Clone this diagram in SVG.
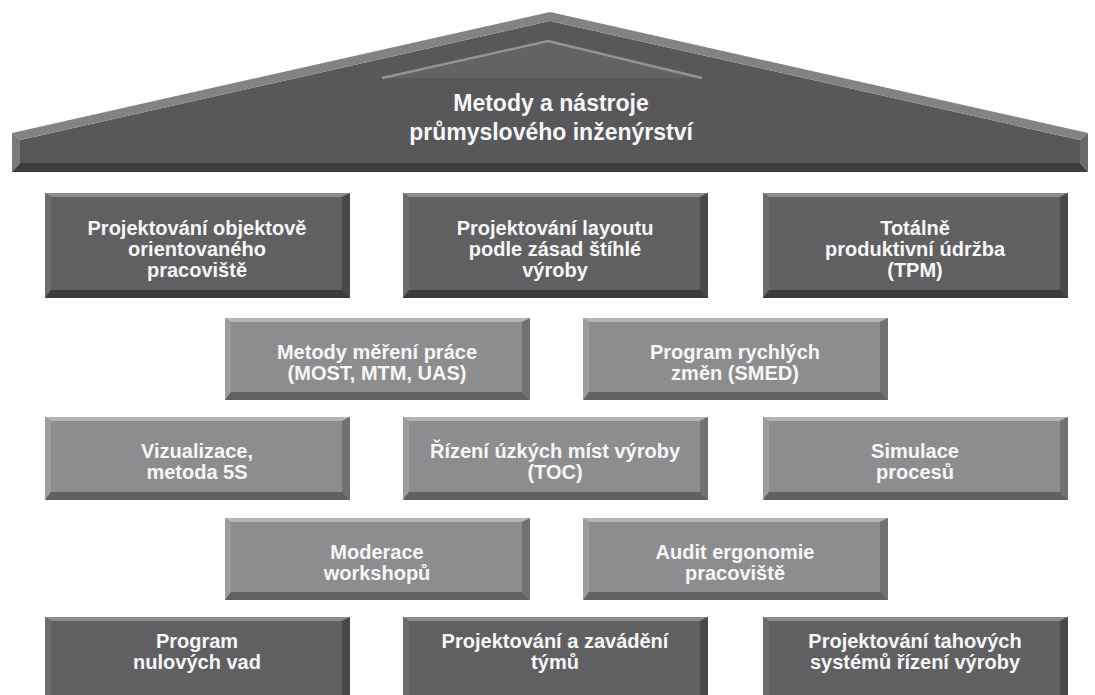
<svg xmlns="http://www.w3.org/2000/svg" width="1095" height="695" viewBox="0 0 1095 695">
<style>
  text { font-family: "Liberation Sans", Arial, Helvetica, sans-serif; font-weight: bold; fill: #f7f7f7; text-anchor: middle; }
  .t { font-size: 20px; }
  .roof-t { font-size: 23px; }
  .dk .face { fill: #606062; }
  .dk .bt { fill: #8c8c8e; }
  .dk .bl { fill: #6c6c6e; }
  .dk .br { fill: #49494b; }
  .dk .bb { fill: #3c3c3e; }
  .md .face { fill: #8d8d8f; }
  .md .bt { fill: #b4b4b6; }
  .md .bl { fill: #9d9d9f; }
  .md .br { fill: #717173; }
  .md .bb { fill: #616163; }
</style>
<rect x="0" y="0" width="1095" height="695" fill="#ffffff"/>

<g id="roof">
  <polygon points="20,140 550,21 1080,140 1080,163 20,163" fill="#58585b"/>
  <polygon points="12,133 550,12 1088,133 1080,140 550,21 20,140" fill="#838386"/>
  <polygon points="12,133 20,140 20,163 12,172" fill="#7a7a7d"/>
  <polygon points="1088,133 1088,172 1080,163 1080,140" fill="#6a6a6d"/>
  <polygon points="12,172 20,163 1080,163 1088,172" fill="#3c3c3e"/>
  <polygon points="382,78 548,41 702,78" fill="#636366"/>
  <polyline points="382,78 548,41 702,78" fill="none" stroke="#939396" stroke-width="2.5"/>
  <text class="roof-t" x="551" y="111">Metody a nástroje</text>
  <text class="roof-t" x="551" y="140">průmyslového inženýrství</text>
</g>

<g id="connectors"></g>

<!-- Row 1 -->
<g id="n1" class="dk" transform="translate(45,193)">
  <rect class="face" width="305" height="105"/>
  <polygon class="bt" points="0,0 305,0 297,4 6,4"/>
  <polygon class="bl" points="0,0 6,4 6,97 0,105"/>
  <polygon class="br" points="305,0 305,105 297,97 297,4"/>
  <polygon class="bb" points="0,105 6,97 297,97 305,105"/>
  <text class="t" x="152" y="41.5">Projektování objektově</text>
  <text class="t" x="152" y="62.5">orientovaného</text>
  <text class="t" x="152" y="83.5">pracoviště</text>
</g>
<g id="n2" class="dk" transform="translate(403,193)">
  <rect class="face" width="305" height="105"/>
  <polygon class="bt" points="0,0 305,0 297,4 6,4"/>
  <polygon class="bl" points="0,0 6,4 6,97 0,105"/>
  <polygon class="br" points="305,0 305,105 297,97 297,4"/>
  <polygon class="bb" points="0,105 6,97 297,97 305,105"/>
  <text class="t" x="152" y="41.5">Projektování layoutu</text>
  <text class="t" x="152" y="62.5">podle zásad štíhlé</text>
  <text class="t" x="152" y="83.5">výroby</text>
</g>
<g id="n3" class="dk" transform="translate(763,193)">
  <rect class="face" width="305" height="105"/>
  <polygon class="bt" points="0,0 305,0 297,4 6,4"/>
  <polygon class="bl" points="0,0 6,4 6,97 0,105"/>
  <polygon class="br" points="305,0 305,105 297,97 297,4"/>
  <polygon class="bb" points="0,105 6,97 297,97 305,105"/>
  <text class="t" x="152" y="41.5">Totálně</text>
  <text class="t" x="152" y="62.5">produktivní údržba</text>
  <text class="t" x="152" y="83.5">(TPM)</text>
</g>

<!-- Row 2 -->
<g id="n4" class="md" transform="translate(225,318)">
  <rect class="face" width="305" height="82"/>
  <polygon class="bt" points="0,0 305,0 297,4 6,4"/>
  <polygon class="bl" points="0,0 6,4 6,74 0,82"/>
  <polygon class="br" points="305,0 305,82 297,74 297,4"/>
  <polygon class="bb" points="0,82 6,74 297,74 305,82"/>
  <text class="t" x="152" y="40.5">Metody měření práce</text>
  <text class="t" x="152" y="61.5">(MOST, MTM, UAS)</text>
</g>
<g id="n5" class="md" transform="translate(583,318)">
  <rect class="face" width="305" height="82"/>
  <polygon class="bt" points="0,0 305,0 297,4 6,4"/>
  <polygon class="bl" points="0,0 6,4 6,74 0,82"/>
  <polygon class="br" points="305,0 305,82 297,74 297,4"/>
  <polygon class="bb" points="0,82 6,74 297,74 305,82"/>
  <text class="t" x="152" y="40.5">Program rychlých</text>
  <text class="t" x="152" y="61.5">změn (SMED)</text>
</g>

<!-- Row 3 -->
<g id="n6" class="md" transform="translate(45,417)">
  <rect class="face" width="305" height="83"/>
  <polygon class="bt" points="0,0 305,0 297,4 6,4"/>
  <polygon class="bl" points="0,0 6,4 6,75 0,83"/>
  <polygon class="br" points="305,0 305,83 297,75 297,4"/>
  <polygon class="bb" points="0,83 6,75 297,75 305,83"/>
  <text class="t" x="152" y="41">Vizualizace,</text>
  <text class="t" x="152" y="62">metoda 5S</text>
</g>
<g id="n7" class="md" transform="translate(403,417)">
  <rect class="face" width="305" height="83"/>
  <polygon class="bt" points="0,0 305,0 297,4 6,4"/>
  <polygon class="bl" points="0,0 6,4 6,75 0,83"/>
  <polygon class="br" points="305,0 305,83 297,75 297,4"/>
  <polygon class="bb" points="0,83 6,75 297,75 305,83"/>
  <text class="t" x="152" y="41">Řízení úzkých míst výroby</text>
  <text class="t" x="152" y="62">(TOC)</text>
</g>
<g id="n8" class="md" transform="translate(763,417)">
  <rect class="face" width="305" height="83"/>
  <polygon class="bt" points="0,0 305,0 297,4 6,4"/>
  <polygon class="bl" points="0,0 6,4 6,75 0,83"/>
  <polygon class="br" points="305,0 305,83 297,75 297,4"/>
  <polygon class="bb" points="0,83 6,75 297,75 305,83"/>
  <text class="t" x="152" y="41">Simulace</text>
  <text class="t" x="152" y="62">procesů</text>
</g>

<!-- Row 4 -->
<g id="n9" class="md" transform="translate(225,518)">
  <rect class="face" width="305" height="82"/>
  <polygon class="bt" points="0,0 305,0 297,4 6,4"/>
  <polygon class="bl" points="0,0 6,4 6,74 0,82"/>
  <polygon class="br" points="305,0 305,82 297,74 297,4"/>
  <polygon class="bb" points="0,82 6,74 297,74 305,82"/>
  <text class="t" x="152" y="40.5">Moderace</text>
  <text class="t" x="152" y="61.5">workshopů</text>
</g>
<g id="n10" class="md" transform="translate(583,518)">
  <rect class="face" width="305" height="82"/>
  <polygon class="bt" points="0,0 305,0 297,4 6,4"/>
  <polygon class="bl" points="0,0 6,4 6,74 0,82"/>
  <polygon class="br" points="305,0 305,82 297,74 297,4"/>
  <polygon class="bb" points="0,82 6,74 297,74 305,82"/>
  <text class="t" x="152" y="40.5">Audit ergonomie</text>
  <text class="t" x="152" y="61.5">pracoviště</text>
</g>

<!-- Row 5 -->
<g id="n11" class="dk" transform="translate(45,617)">
  <rect class="face" width="305" height="85"/>
  <polygon class="bt" points="0,0 305,0 297,4 6,4"/>
  <polygon class="bl" points="0,0 6,4 6,77 0,85"/>
  <polygon class="br" points="305,0 305,85 297,77 297,4"/>
  <text class="t" x="152" y="31">Program</text>
  <text class="t" x="152" y="52">nulových vad</text>
</g>
<g id="n12" class="dk" transform="translate(403,617)">
  <rect class="face" width="305" height="85"/>
  <polygon class="bt" points="0,0 305,0 297,4 6,4"/>
  <polygon class="bl" points="0,0 6,4 6,77 0,85"/>
  <polygon class="br" points="305,0 305,85 297,77 297,4"/>
  <text class="t" x="152" y="31">Projektování a zavádění</text>
  <text class="t" x="152" y="52">týmů</text>
</g>
<g id="n13" class="dk" transform="translate(763,617)">
  <rect class="face" width="305" height="85"/>
  <polygon class="bt" points="0,0 305,0 297,4 6,4"/>
  <polygon class="bl" points="0,0 6,4 6,77 0,85"/>
  <polygon class="br" points="305,0 305,85 297,77 297,4"/>
  <text class="t" x="152" y="31">Projektování tahových</text>
  <text class="t" x="152" y="52">systémů řízení výroby</text>
</g>
</svg>
